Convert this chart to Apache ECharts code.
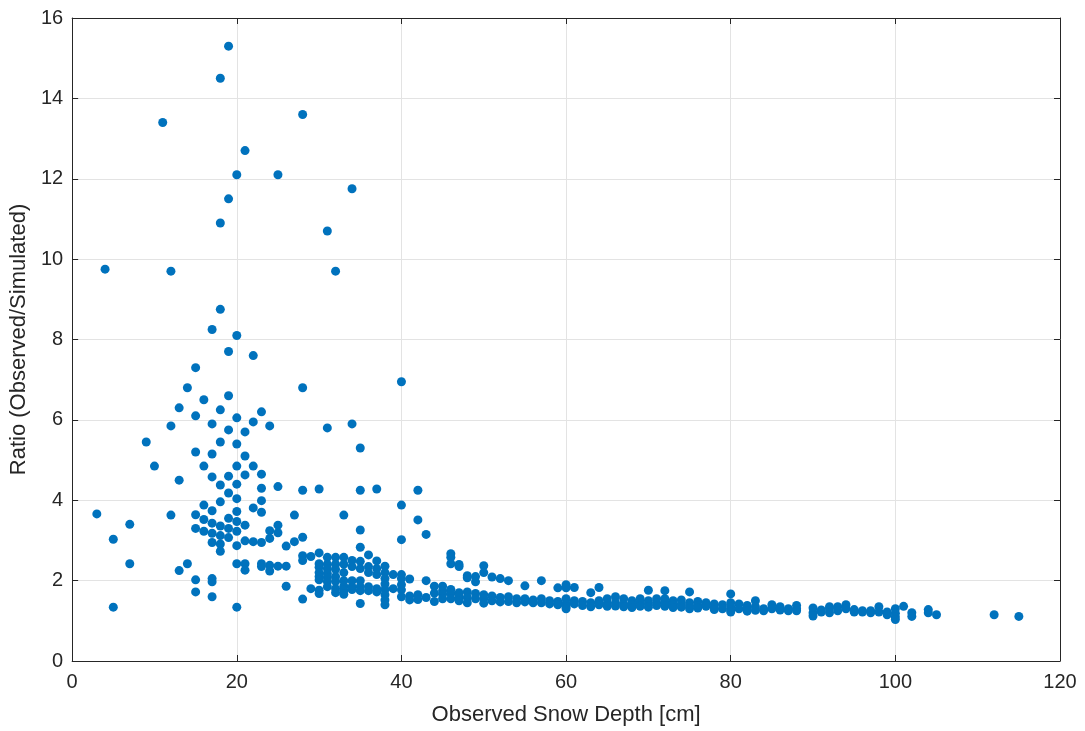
<!DOCTYPE html>
<html>
<head>
<meta charset="utf-8">
<script src="https://cdn.jsdelivr.net/npm/echarts@6/dist/echarts.min.js"></script>
<style>
  html, body { margin: 0; padding: 0; background: #fff; }
  #chart { width: 1085px; height: 731px; }
</style>
</head>
<body>
<div id="chart"></div>
<script>
var xTicks = [0, 20, 40, 60, 80, 100, 120];
var yTicks = [0, 2, 4, 6, 8, 10, 12, 14, 16];

// ratios grouped by observed depth [cm] -> [depth, ratio]
var shallow = [
  [3, 3.66], [4, 9.75], [5, 3.03], [5, 1.34], [7, 3.4], [7, 2.42], [9, 5.45], [10, 4.85],
  [11, 13.4], [12, 9.7], [12, 5.85], [12, 3.63], [13, 6.3], [13, 4.5], [13, 2.25],
  [14, 6.8], [14, 2.42],
  [15, 7.3], [15, 6.1], [15, 5.2], [15, 3.64], [15, 3.3], [15, 2.02], [15, 1.72],
  [16, 6.5], [16, 4.85], [16, 3.88], [16, 3.52], [16, 3.23],
  [17, 8.25], [17, 5.9], [17, 5.15], [17, 4.58], [17, 3.74], [17, 3.43], [17, 3.18], [17, 2.95], [17, 2.05], [17, 1.97], [17, 1.6],
  [18, 14.5], [18, 10.9], [18, 8.75], [18, 6.25], [18, 5.45], [18, 4.38], [18, 3.96], [18, 3.36], [18, 3.12], [18, 2.91], [18, 2.73],
  [19, 15.3], [19, 11.5], [19, 7.7], [19, 6.6], [19, 5.75], [19, 4.6], [19, 4.18], [19, 3.55], [19, 3.3], [19, 3.07],
  [20, 12.1], [20, 8.1], [20, 6.05], [20, 5.4], [20, 4.85], [20, 4.4], [20, 4.04], [20, 3.72], [20, 3.47], [20, 3.23], [20, 2.87], [20, 2.42], [20, 1.34],
  [21, 12.7], [21, 5.7], [21, 5.1], [21, 4.63], [21, 3.38], [21, 2.99], [21, 2.42], [21, 2.26],
  [22, 7.6], [22, 5.95], [22, 4.85], [22, 3.81], [22, 2.97],
  [23, 6.2], [23, 4.65], [23, 4.3], [23, 3.99], [23, 3.7], [23, 2.95], [23, 2.42], [23, 2.35],
  [24, 5.85], [24, 3.24], [24, 3.05], [24, 2.38], [24, 2.24],
  [25, 12.1], [25, 4.34], [25, 3.38], [25, 3.19], [25, 2.36],
  [26, 2.86], [26, 2.36], [26, 1.86], [27, 3.63], [27, 2.97],
  [28, 13.6], [28, 6.8], [28, 4.25], [28, 3.08], [28, 2.62], [28, 2.5], [28, 1.54],
  [29, 2.6], [29, 1.8]
];
var middle = [
  [30, 4.28], [30, 2.69], [30, 2.42], [30, 2.33], [30, 2.2], [30, 2.1], [30, 2.02], [30, 1.76], [30, 1.68],
  [31, 10.7], [31, 5.8], [31, 2.58], [31, 2.41], [31, 2.3], [31, 2.18], [31, 2.08], [31, 1.98], [31, 1.85],
  [32, 9.7], [32, 2.58], [32, 2.41], [32, 2.28], [32, 2.1], [32, 1.98], [32, 1.8], [32, 1.7],
  [33, 3.63], [33, 2.58], [33, 2.41], [33, 2.2], [33, 2.0], [33, 1.86], [33, 1.76], [33, 1.66],
  [34, 11.75], [34, 5.9], [34, 2.5], [34, 2.35], [34, 2.0], [34, 1.85], [34, 1.78],
  [35, 5.3], [35, 4.25], [35, 3.26], [35, 2.83], [35, 2.48], [35, 2.3], [35, 2.0], [35, 1.85], [35, 1.75], [35, 1.43],
  [36, 2.64], [36, 2.35], [36, 2.2], [36, 1.85], [36, 1.75],
  [37, 4.28], [37, 2.49], [37, 2.3], [37, 2.15], [37, 1.8], [37, 1.72],
  [38, 2.36], [38, 2.2], [38, 2.05], [38, 1.92], [38, 1.78], [38, 1.65], [38, 1.52], [38, 1.4],
  [39, 2.15], [39, 1.8],
  [40, 6.95], [40, 3.88], [40, 3.02], [40, 2.15], [40, 2.05], [40, 1.9], [40, 1.77], [40, 1.6],
  [41, 2.04], [41, 1.62], [41, 1.52], [42, 4.25], [42, 3.51], [42, 1.65], [42, 1.53],
  [43, 3.15], [43, 2.0], [43, 1.58], [44, 1.86], [44, 1.69], [44, 1.48],
  [45, 1.86], [45, 1.75], [45, 1.66], [45, 1.55],
  [46, 2.67], [46, 2.58], [46, 2.42], [46, 1.78], [46, 1.68], [46, 1.55],
  [47, 2.4], [47, 2.35], [47, 1.7], [47, 1.6], [47, 1.5],
  [48, 2.12], [48, 2.07], [48, 1.72], [48, 1.58], [48, 1.45],
  [49, 2.1], [49, 1.97], [49, 1.68], [49, 1.55],
  [50, 2.37], [50, 2.2], [50, 1.65], [50, 1.55], [50, 1.44],
  [51, 2.09], [51, 1.62], [51, 1.5], [52, 2.05], [52, 1.58], [52, 1.47],
  [53, 2.0], [53, 1.6], [53, 1.48], [54, 1.55], [54, 1.45],
  [55, 1.87], [55, 1.55], [55, 1.47], [56, 1.52], [56, 1.45],
  [57, 2.0], [57, 1.55], [57, 1.45], [58, 1.5], [58, 1.42],
  [59, 1.82], [59, 1.48], [59, 1.4]
];
var deep = [
  [60, 1.9], [60, 1.82], [60, 1.55], [60, 1.43], [60, 1.35], [60, 1.3],
  [61, 1.83], [61, 1.5], [61, 1.42], [62, 1.48], [62, 1.38],
  [63, 1.7], [63, 1.45], [63, 1.35], [64, 1.83], [64, 1.5], [64, 1.4],
  [65, 1.55], [65, 1.43], [65, 1.36], [66, 1.6], [66, 1.45], [66, 1.37],
  [67, 1.55], [67, 1.42], [67, 1.35], [68, 1.5], [68, 1.4], [68, 1.33],
  [69, 1.55], [69, 1.45], [69, 1.36], [70, 1.76], [70, 1.5], [70, 1.42], [70, 1.34],
  [71, 1.55], [71, 1.45], [71, 1.38], [72, 1.75], [72, 1.55], [72, 1.45], [72, 1.36],
  [73, 1.5], [73, 1.4], [73, 1.33], [74, 1.52], [74, 1.42], [74, 1.34],
  [75, 1.72], [75, 1.45], [75, 1.37], [75, 1.3], [76, 1.48], [76, 1.38], [76, 1.32],
  [77, 1.45], [77, 1.36], [78, 1.42], [78, 1.33], [78, 1.28], [79, 1.4], [79, 1.3],
  [80, 1.67], [80, 1.45], [80, 1.35], [80, 1.27], [80, 1.22],
  [81, 1.42], [81, 1.3], [82, 1.38], [82, 1.3], [82, 1.24],
  [83, 1.5], [83, 1.35], [83, 1.26], [84, 1.3], [84, 1.25], [85, 1.4], [85, 1.3],
  [86, 1.35], [86, 1.27], [87, 1.3], [87, 1.25], [88, 1.38], [88, 1.3], [88, 1.25],
  [90, 1.32], [90, 1.2], [90, 1.12], [91, 1.27], [91, 1.22],
  [92, 1.35], [92, 1.3], [92, 1.2], [93, 1.35], [93, 1.25], [94, 1.4], [94, 1.3],
  [95, 1.28], [95, 1.22], [96, 1.25], [96, 1.22], [97, 1.25], [97, 1.2],
  [98, 1.35], [98, 1.22], [99, 1.22], [99, 1.15],
  [100, 1.3], [100, 1.19], [100, 1.1], [100, 1.03], [101, 1.36],
  [102, 1.2], [102, 1.11], [104, 1.28], [104, 1.2], [105, 1.15],
  [112, 1.15], [115, 1.11]
];

var axisColor = '#262626';
var gridColor = '#e3e3e3';
var fontFam = '"Liberation Sans", Arial, Helvetica, sans-serif';

var myChart = echarts.init(document.getElementById('chart'));
var option = {
  backgroundColor: '#ffffff',
  animation: false,
  textStyle: { fontFamily: fontFam },
  grid: { left: 72, right: 25, top: 18, bottom: 68 },
  xAxis: [
    {
      type: 'value', min: 0, max: 120, interval: 20,
      name: 'Observed Snow Depth [cm]',
      nameLocation: 'middle', nameGap: 43,
      nameTextStyle: { fontSize: 22, color: axisColor, fontFamily: fontFam },
      axisLine: { show: true, onZero: false, lineStyle: { color: axisColor, width: 1 } },
      axisTick: { show: true, inside: true, length: 6, lineStyle: { color: axisColor } },
      axisLabel: { fontSize: 20, color: axisColor, margin: 11, fontFamily: fontFam,
        formatter: function (v) { return xTicks.indexOf(v) >= 0 ? String(v) : ''; } },
      splitLine: { show: true, lineStyle: { color: gridColor, width: 1 } }
    },
    {
      type: 'value', min: 0, max: 120, interval: 20, position: 'top',
      axisLine: { show: true, onZero: false, lineStyle: { color: axisColor, width: 1 } },
      axisTick: { show: true, inside: true, length: 6, lineStyle: { color: axisColor } },
      axisLabel: { show: false },
      splitLine: { show: false }
    }
  ],
  yAxis: [
    {
      type: 'value', min: 0, max: 16, interval: 2,
      name: 'Ratio (Observed/Simulated)',
      nameLocation: 'middle', nameGap: 39, nameRotate: 90,
      nameTextStyle: { fontSize: 22, color: axisColor, fontFamily: fontFam },
      axisLine: { show: true, onZero: false, lineStyle: { color: axisColor, width: 1 } },
      axisTick: { show: true, inside: true, length: 6, lineStyle: { color: axisColor } },
      axisLabel: { fontSize: 20, color: axisColor, margin: 9, fontFamily: fontFam,
        formatter: function (v) { return yTicks.indexOf(v) >= 0 ? String(v) : ''; } },
      splitLine: { show: true, lineStyle: { color: gridColor, width: 1 } }
    },
    {
      type: 'value', min: 0, max: 16, interval: 2, position: 'right',
      axisLine: { show: true, onZero: false, lineStyle: { color: axisColor, width: 1 } },
      axisTick: { show: true, inside: true, length: 6, lineStyle: { color: axisColor } },
      axisLabel: { show: false },
      splitLine: { show: false }
    }
  ],
  series: [
    {
      type: 'scatter',
      xAxisIndex: 0, yAxisIndex: 0,
      symbol: 'circle',
      symbolSize: 9,
      itemStyle: { color: '#0072bd', opacity: 1 },
      emphasis: { disabled: true },
      data: shallow.concat(middle, deep)
    }
  ]
};

myChart.setOption(option);
window.onresize = function () { myChart.resize(); };
</script>
</body>
</html>
